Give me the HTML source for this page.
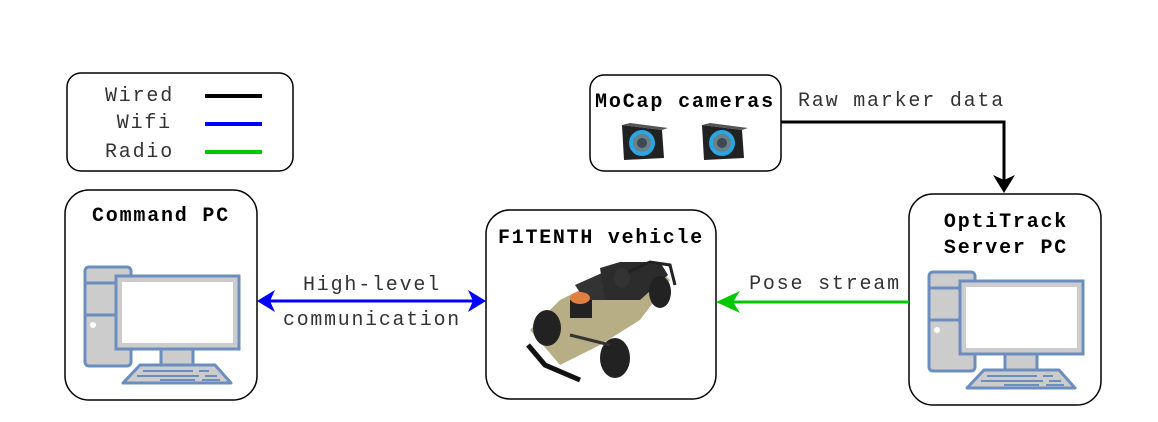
<!DOCTYPE html>
<html><head><meta charset="utf-8"><style>
html,body{margin:0;padding:0;background:#fff;}
svg{display:block;}
text{font-family:"Liberation Mono","Courier New",monospace;font-size:20px;letter-spacing:1.8px;}
</style></head><body>
<svg width="1158" height="422" viewBox="0 0 1158 422" xmlns="http://www.w3.org/2000/svg">
<defs>
<g id="pc">
<rect x="0" y="0" width="46" height="99" rx="4" fill="#cccccc" stroke="#6c8ebf" stroke-width="3"/>
<line x1="0" y1="16" x2="46" y2="16" stroke="#6c8ebf" stroke-width="3"/>
<line x1="0" y1="48" x2="46" y2="48" stroke="#6c8ebf" stroke-width="3"/>
<circle cx="8" cy="58" r="3" fill="#fff"/>
<rect x="76" y="82" width="32" height="16" fill="#cccccc" stroke="#6c8ebf" stroke-width="3"/>
<rect x="31" y="9" width="123" height="73" fill="#cccccc" stroke="#6c8ebf" stroke-width="3"/>
<rect x="37" y="15" width="111" height="61" fill="#fff"/>
<polygon points="55,98 130,98 146,116 38,116" fill="#cccccc" stroke="#6c8ebf" stroke-width="3" stroke-linejoin="round"/>
<line x1="58" y1="104" x2="108" y2="104" stroke="#6c8ebf" stroke-width="2"/>
<line x1="114" y1="104" x2="124" y2="104" stroke="#6c8ebf" stroke-width="2"/>
<line x1="52" y1="109" x2="114" y2="109" stroke="#6c8ebf" stroke-width="2"/>
<line x1="120" y1="109" x2="132" y2="109" stroke="#6c8ebf" stroke-width="2"/>
<line x1="75" y1="113" x2="110" y2="113" stroke="#6c8ebf" stroke-width="2"/>
<line x1="117" y1="113" x2="135" y2="113" stroke="#6c8ebf" stroke-width="2"/>
</g>
<g id="cam">
<polygon points="-20,-17 20,-12 22,16 -18,18" fill="#222"/>
<polygon points="-20,-17 -12,-19 26,-14 20,-12" fill="#555"/>
<circle cx="0" cy="1" r="13" fill="#2aa6e0"/>
<circle cx="0" cy="1" r="9" fill="#6a7f8c"/>
<circle cx="0" cy="1" r="5" fill="#3d4a52"/>
</g>
</defs>

<!-- Legend -->
<rect x="67" y="73" width="226" height="98" rx="14" fill="#fff" stroke="#000" stroke-width="1.5"/>
<text x="174" y="101" text-anchor="end" fill="#333">Wired</text>
<text x="172" y="128" text-anchor="end" fill="#333">Wifi</text>
<text x="174" y="157" text-anchor="end" fill="#333">Radio</text>
<line x1="205" y1="96" x2="262" y2="96" stroke="#000" stroke-width="4"/>
<line x1="205" y1="124" x2="262" y2="124" stroke="#0000ff" stroke-width="4"/>
<line x1="205" y1="152" x2="262" y2="152" stroke="#00c800" stroke-width="4"/>

<!-- MoCap -->
<rect x="590" y="75" width="191" height="96" rx="14" fill="#fff" stroke="#000" stroke-width="1.5"/>
<text x="685" y="107" font-weight="bold" text-anchor="middle" textLength="180" lengthAdjust="spacingAndGlyphs">MoCap cameras</text>
<use href="#cam" x="642" y="142"/>
<use href="#cam" x="722" y="142"/>
<text x="798" y="106" fill="#333">Raw marker data</text>
<polyline points="781,122 1004,122 1004,180" fill="none" stroke="#000" stroke-width="3"/>
<polygon points="993,175 1004,193 1015,175 1004,180" fill="#000"/>

<!-- Command PC -->
<rect x="65" y="190" width="192" height="210" rx="24" fill="#fff" stroke="#000" stroke-width="1.5"/>
<text x="161" y="221" font-weight="bold" text-anchor="middle">Command PC</text>
<use href="#pc" x="85" y="267"/>

<!-- F1TENTH -->
<rect x="486" y="210" width="230" height="189" rx="24" fill="#fff" stroke="#000" stroke-width="1.5"/>
<text x="601" y="243" font-weight="bold" text-anchor="middle" textLength="206" lengthAdjust="spacingAndGlyphs">F1TENTH vehicle</text>
<g>
<polygon points="530,330 560,300 610,275 655,265 670,280 640,320 600,345 560,365" fill="#b8ae86"/>
<polygon points="575,285 620,265 650,275 610,300 585,300" fill="#333"/>
<polygon points="600,268 620,262 660,262 668,275 640,300 605,300" fill="#2c2c2c"/>
<path d="M628,272 L650,262 L670,265 L675,285" fill="none" stroke="#222" stroke-width="3"/>
<rect x="570" y="300" width="22" height="18" fill="#222"/>
<ellipse cx="580" cy="298" rx="10" ry="6" fill="#e08040"/>
<path d="M528,345 L545,365 L580,380" fill="none" stroke="#111" stroke-width="5"/>
<ellipse cx="547" cy="328" rx="14" ry="18" fill="#222"/>
<ellipse cx="615" cy="358" rx="15" ry="20" fill="#222"/>
<ellipse cx="660" cy="292" rx="11" ry="16" fill="#222"/>
<ellipse cx="622" cy="278" rx="8" ry="10" fill="#333"/>
<line x1="570" y1="335" x2="610" y2="345" stroke="#333" stroke-width="3"/>
</g>

<!-- OptiTrack -->
<rect x="909" y="194" width="192" height="211" rx="24" fill="#fff" stroke="#000" stroke-width="1.5"/>
<text x="1006" y="227" font-weight="bold" text-anchor="middle">OptiTrack</text>
<text x="1006" y="253" font-weight="bold" text-anchor="middle">Server PC</text>
<use href="#pc" x="929" y="272"/>

<!-- Blue arrow -->
<line x1="268" y1="301" x2="475" y2="301" stroke="#0000ff" stroke-width="3"/>
<polygon points="257,301 275,290 270,301 275,312" fill="#0000ff"/>
<polygon points="486,301 468,290 473,301 468,312" fill="#0000ff"/>
<text x="372" y="290" text-anchor="middle" fill="#333">High-level</text>
<text x="372" y="325" text-anchor="middle" fill="#333" textLength="178" lengthAdjust="spacingAndGlyphs">communication</text>

<!-- Green arrow -->
<line x1="909" y1="302" x2="728" y2="302" stroke="#00c800" stroke-width="3"/>
<polygon points="716,302 740,291 733,302 740,313" fill="#00c800"/>
<text x="825" y="289" text-anchor="middle" fill="#333">Pose stream</text>
</svg>
</body></html>
